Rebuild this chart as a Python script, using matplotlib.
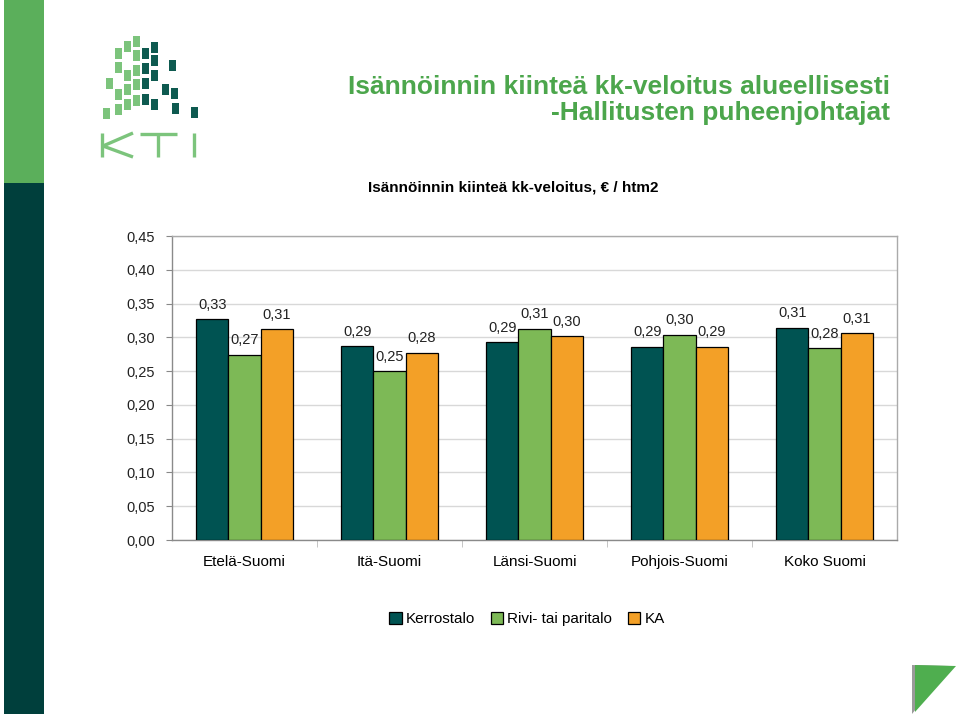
import numpy as np
import matplotlib
matplotlib.use("Agg")
import matplotlib.pyplot as plt
from matplotlib.patches import Rectangle, Polygon

# DATA
regions = ["Etelä-Suomi", "Itä-Suomi", "Länsi-Suomi", "Pohjois-Suomi", "Koko Suomi"]
kerrostalo = [0.327, 0.287, 0.293, 0.286, 0.314]
rivitalo = [0.274, 0.250, 0.313, 0.304, 0.284]
ka = [0.312, 0.277, 0.302, 0.286, 0.306]
series_names = ["Kerrostalo", "Rivi- tai paritalo", "KA"]
yticks = [0.0, 0.05, 0.10, 0.15, 0.20, 0.25, 0.30, 0.35, 0.40, 0.45]

colors = ["#005352", "#7DB956", "#F3A027"]
W, H = 960, 716

plt.rcParams["font.family"] = ["Liberation Sans", "DejaVu Sans"]

fig = plt.figure(figsize=(9.6, 7.16), dpi=100)
fig.patch.set_facecolor("white")

# decoration layer in pixel coordinates
deco = fig.add_axes([0, 0, 1, 1])
deco.set_xlim(0, W)
deco.set_ylim(H, 0)
deco.axis("off")
deco.add_patch(Rectangle((4, 0), 40, 183, color="#5BAF5B", lw=0))
deco.add_patch(Rectangle((4, 183), 40, 531, color="#003F3C", lw=0))
deco.add_patch(Polygon([(912, 665), (950, 666), (912, 714)], color="#9A9A9A", lw=0))
deco.add_patch(Polygon([(915, 665), (956, 666), (915, 712)], color="#4FAE4F", lw=0))

# KTI logo squares (approximate)
light = [(133, 36), (133, 50), (133, 65), (133, 79), (133, 95),
         (124, 41), (124, 70), (124, 84), (124, 99),
         (115, 48), (115, 62), (115, 89), (115, 104),
         (106, 78), (103, 108)]
dark = [(142, 48), (142, 63), (142, 78), (142, 94),
        (151, 42), (151, 55), (151, 70), (151, 99),
        (162, 84), (169, 60), (171, 88), (172, 103), (191, 107)]
for x, y in light:
    deco.add_patch(Rectangle((x, y), 7, 11, color="#7CC47C", lw=0))
for x, y in dark:
    deco.add_patch(Rectangle((x, y), 7, 11, color="#0E5A50", lw=0))
# "KTI" drawn as strokes
logo_c = "#7CC47C"
kw = dict(color=logo_c, lw=2.4, solid_capstyle="butt")
deco.plot([102, 102], [133, 157], **kw)
deco.plot([103, 133], [146, 133], **kw)
deco.plot([103, 133], [146, 157], **kw)
deco.plot([140, 177], [134, 134], **kw)
deco.plot([158, 158], [134, 157], **kw)
deco.plot([194, 194], [133, 157], **kw)

# titles
fig.text(890 / W, 1 - 87 / H, "Isännöinnin kiinteä kk-veloitus alueellisesti",
         ha="right", va="center", fontsize=19, fontweight="bold", color="#4CA64C")
fig.text(890 / W, 1 - 113 / H, "-Hallitusten puheenjohtajat",
         ha="right", va="center", fontsize=19, fontweight="bold", color="#4CA64C")
fig.text(513 / W, 1 - 187 / H, "Isännöinnin kiinteä kk-veloitus, € / htm2",
         ha="center", va="center", fontsize=11, fontweight="bold", color="black")

# chart
ax = fig.add_axes([172 / W, 1 - 540 / H, 725 / W, 304 / H])
x = np.arange(len(regions))
bw = 0.222
for i, (vals, c) in enumerate(zip([kerrostalo, rivitalo, ka], colors)):
    pos = x + (i - 1) * bw
    ax.bar(pos, vals, width=bw, color=c, edgecolor="black", linewidth=0.9,
           label=series_names[i], zorder=3)
    for px, v in zip(pos, vals):
        ax.text(px, v + 0.011, f"{v:.2f}".replace(".", ","), ha="center",
                va="bottom", fontsize=10.5, color="#222222", zorder=4)

ax.set_xlim(-0.5, len(regions) - 0.5)
ax.set_ylim(0, 0.45)
ax.set_yticks(yticks)
ax.set_yticklabels([f"{t:.2f}".replace(".", ",") for t in yticks])
ax.yaxis.grid(True, color="#D8D8D8", linewidth=1, zorder=0)
ax.set_xticks(x)
ax.set_xticklabels(regions)
ax.set_xticks(np.arange(0.5, len(regions) - 0.5), minor=True)
ax.tick_params(axis="x", which="major", length=0, pad=11, labelsize=11)
ax.tick_params(axis="x", which="minor", length=5, color="#BBBBBB")
ax.tick_params(axis="y", length=4, color="#888888", labelsize=10.5, pad=8,
               labelcolor="#222222")
for s in ax.spines.values():
    s.set_color("#8A8A8A")
    s.set_linewidth(1)
ax.spines["top"].set_color("#AAAAAA")
ax.spines["right"].set_color("#AAAAAA")

ax.legend(loc="center", bbox_to_anchor=(527 / W, 1 - 619 / H),
          bbox_transform=fig.transFigure, ncol=3, frameon=False, fontsize=11,
          handlelength=0.8, handleheight=0.8, handletextpad=0.3, columnspacing=1.0)

fig.savefig("out.png", dpi=100)
